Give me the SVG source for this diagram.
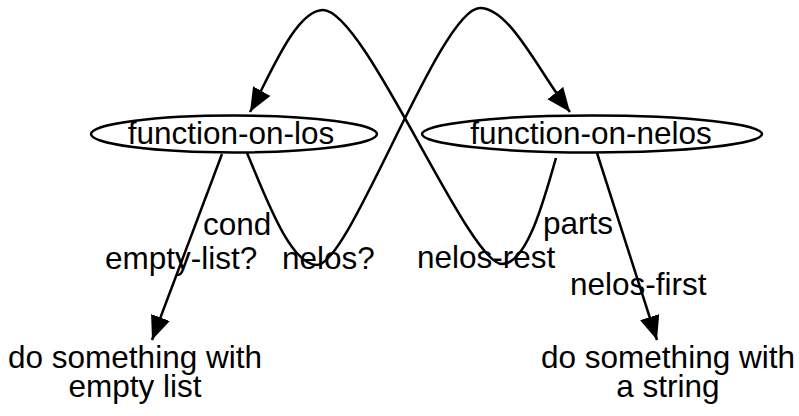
<svg xmlns="http://www.w3.org/2000/svg" width="799" height="416" viewBox="0 0 799 416">
  <style>
    text { font-family: "Liberation Sans", Arial, Helvetica, sans-serif; font-size: 31.5px; fill: #000; }
    .mid { text-anchor: middle; }
    .node-shape { fill: #fff; stroke: #000; stroke-width: 2.5; }
    .edge { fill: none; stroke: #000; stroke-width: 2.5; marker-end: url(#arrow); }
    .plain { fill: none; stroke: #000; stroke-width: 2.5; }
  </style>
  <defs>
    <marker id="arrow" markerUnits="userSpaceOnUse" markerWidth="26" markerHeight="22" refX="24" refY="10" orient="auto" viewBox="0 0 26 22">
      <path d="M0,0 L24,10 L0,20 z" fill="#000"/>
    </marker>
  </defs>

  <rect width="799" height="416" fill="#fff"/>

  <!-- connectors -->
  <g id="connectors">
    <!-- function-on-los: nelos? branch calls function-on-nelos -->
    <path class="edge" d="M247,153 C265,195 290,265 317,265 C350,265 440,8 480,8 C510,8 539,72 570,112"/>
    <!-- function-on-nelos: nelos-rest calls function-on-los -->
    <path class="edge" d="M556,158 C545,195 528,264 502,264 C468,264 365,10 323,10 C295,10 268,80 250,112"/>
    <!-- cond / empty-list? -->
    <path class="edge" d="M222,154 L152,340"/>
    <!-- parts / nelos-first -->
    <path class="edge" d="M597,153 L657,340"/>

    <g id="edge-labels">
      <text x="203" y="235">cond</text>
      <text x="105" y="269">empty-list?</text>
      <text x="282" y="269">nelos?</text>
      <text x="543" y="234">parts</text>
      <text x="417" y="268">nelos-rest</text>
      <text x="570" y="295">nelos-first</text>
    </g>
  </g>

  <!-- nodes -->
  <g id="n-function-on-los">
    <ellipse class="node-shape" cx="234" cy="134" rx="143" ry="18.5"/>
    <text class="mid" x="231" y="144">function-on-los</text>
  </g>
  <g id="n-function-on-nelos">
    <ellipse class="node-shape" cx="592" cy="134" rx="170" ry="18.5"/>
    <text class="mid" x="591" y="144">function-on-nelos</text>
  </g>
  <g id="n-empty-list">
    <text class="mid" x="135" y="368">do something with</text>
    <text class="mid" x="135" y="397">empty list</text>
  </g>
  <g id="n-string">
    <text class="mid" x="668" y="368">do something with</text>
    <text class="mid" x="668" y="397">a string</text>
  </g>
</svg>
